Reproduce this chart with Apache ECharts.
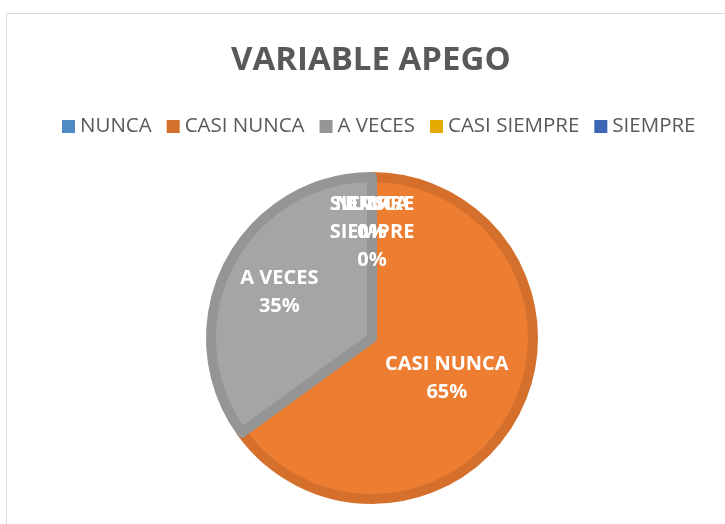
<!DOCTYPE html>
<html>
<head>
<meta charset="utf-8">
<script src="https://cdn.jsdelivr.net/npm/echarts@6/dist/echarts.min.js"></script>
<style>
  html, body { margin: 0; padding: 0; background: #fff; }
  #apego { width: 725px; height: 524px; }
</style>
</head>
<body>
<div id="apego"></div>
<script>
// datos del grafico
var categorias = ['NUNCA', 'CASI NUNCA', 'A VECES', 'CASI SIEMPRE', 'SIEMPRE']
var porcentajes = [0, 65, 35, 0, 0]

// colores tipo Office
var relleno = ['#5B9BD5', '#ED7D31', '#A5A5A5', '#FFC000', '#4472C4']
var borde = ['#4F8AC2', '#D5702C', '#959595', '#E3AB00', '#3B66B5']
// distancia de la etiqueta al centro (px)
var distEtiqueta = [122, 84, 104, 108, 122]

var cx = 372
var cy = 338
var radio = 161

var total = porcentajes.reduce(function (a, b) { return a + b }, 0)

var chart = echarts.init(document.getElementById('apego'))

var datos = categorias.map(function (nombre, i) {
  var item = {
    name: nombre,
    value: porcentajes[i],
    itemStyle: {
      color: relleno[i],
      borderColor: borde[i],
      borderWidth: porcentajes[i] > 0 ? 10 : 0
    }
  }
  if (nombre === 'CASI SIEMPRE') {
    item.label = { width: 90, overflow: 'break' }
  }
  return item
})

var option = {
  animation: false,
  graphic: [{
    type: 'rect',
    shape: { x: 6.5, y: 13.5, width: 800, height: 600 },
    style: { fill: 'none', stroke: '#D9D9D9', lineWidth: 1 },
    silent: true
  }],
  title: {
    text: 'VARIABLE APEGO',
    left: 226,
    top: 34,
    textStyle: {
      fontFamily: 'Open Sans',
      fontWeight: 'bold',
      fontSize: 33,
      lineHeight: 44,
      color: '#595959'
    }
  },
  legend: {
    top: 111,
    left: 57,
    itemWidth: 13,
    itemHeight: 13,
    itemGap: 15,
    icon: 'rect',
    itemStyle: { borderWidth: 0 },
    textStyle: {
      fontFamily: 'Open Sans',
      fontSize: 20.5,
      color: '#595959'
    },
    data: categorias.map(function (nombre, i) {
      return { name: nombre, itemStyle: { color: borde[i] } }
    })
  },
  series: [{
    type: 'pie',
    center: [cx, cy],
    radius: radio,
    startAngle: 90,
    clockwise: true,
    label: {
      show: true,
      position: 'inside',
      formatter: '{b}\n{d}%',
      fontFamily: 'Open Sans',
      fontWeight: 'bold',
      fontSize: 20,
      lineHeight: 28,
      color: '#fff'
    },
    labelLine: { show: false },
    labelLayout: function (p) {
      var i = p.dataIndex
      var antes = 0
      for (var k = 0; k < i; k++) antes += porcentajes[k]
      var theta = 2 * Math.PI * (antes + porcentajes[i] / 2) / total
      return {
        x: cx + distEtiqueta[i] * Math.sin(theta),
        y: cy - distEtiqueta[i] * Math.cos(theta) + 2,
        align: 'center',
        verticalAlign: 'middle'
      }
    },
    emphasis: { disabled: true },
    data: datos
  }]
}

chart.setOption(option)
</script>
</body>
</html>
